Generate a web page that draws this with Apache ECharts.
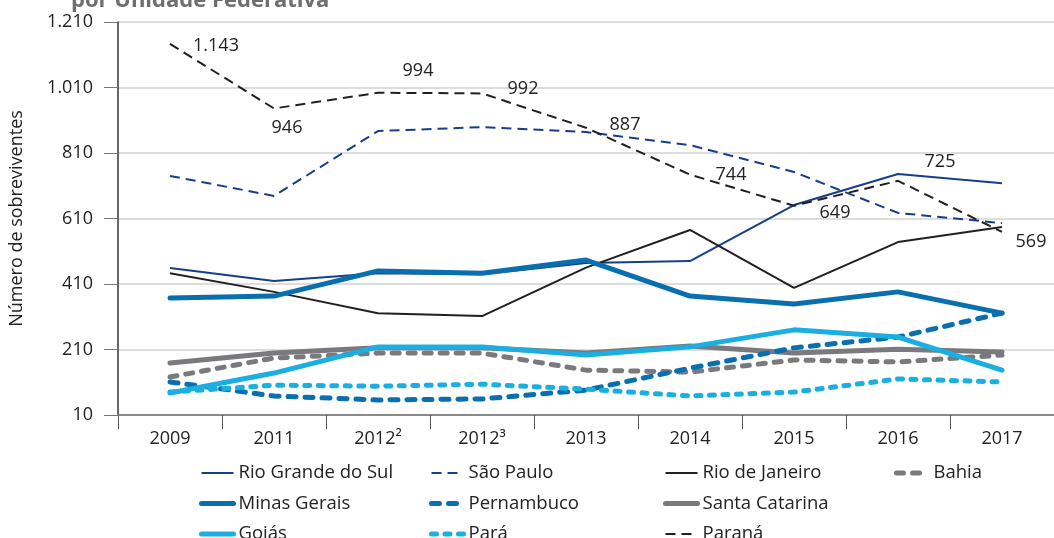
<!DOCTYPE html>
<html>
<head>
<meta charset="utf-8">
<title>Número de sobreviventes por Unidade Federativa</title>
<script src="https://cdn.jsdelivr.net/npm/echarts@6/dist/echarts.min.js"></script>
<style>
  html, body { margin: 0; padding: 0; background: #fff; }
  #chart { width: 1054px; height: 538px; }
</style>
</head>
<body>
<div id="chart"></div>
<script>
// categories (x axis)
var years = ["2009", "2011", "2012²", "2012³", "2013", "2014", "2015", "2016", "2017"];

// series values
var rioGrandeDoSul = [459, 419, 443, 440, 474, 480, 651, 746, 718];
var saoPaulo = [740, 679, 877, 889, 874, 834, 752, 627, 596];
var rioDeJaneiro = [443, 386, 321, 312, 460, 575, 398, 538, 584];
var bahia = [126, 184, 199, 199, 147, 141, 178, 172, 193];
var minasGerais = [367, 373, 450, 443, 483, 373, 349, 386, 321];
var pernambuco = [111, 68, 56, 59, 86, 153, 215, 248, 321];
var santaCatarina = [169, 199, 215, 215, 199, 221, 199, 211, 202];
var goias = [77, 138, 218, 218, 193, 218, 270, 248, 147];
var para = [80, 101, 98, 104, 89, 68, 80, 120, 111];
var parana = [1143, 946, 994, 992, 887, 744, 649, 725, 569];

// y axis ticks
var yMin = 10;
var yMax = 1210;
var yStep = 200;

var navy = "#163f87";
var blue = "#0a6faf";
var cyan = "#1aafe0";
var gray = "#7a7a7e";
var black = "#231f20";
var fontName = "'Open Sans', sans-serif";

// where each Paraná label sits relative to its point
var paranaLabelOffsets = [[46, 2], [13, 19], [40, -22], [41, -5], [39, -3], [41, 0], [41, 7], [42, -19], [29, 10]];

// thick lines (also used for legend icons)
var thick = ["Bahia", "Minas Gerais", "Pernambuco", "Santa Catarina", "Goiás", "Pará"];

function fmt(v) {
  return String(v).replace(/\B(?=(\d{3})+(?!\d))/g, ".");
}

function lineSeries(name, data, color, width, dash) {
  return {
    name: name,
    type: "line",
    data: data,
    symbol: "none",
    z: width > 3 ? 3 : 2,
    lineStyle: {
      color: color,
      width: width,
      type: dash || "solid",
      cap: width > 3 ? "round" : "butt"
    },
    itemStyle: { color: color },
    animation: false
  };
}

var paranaSeries = lineSeries("Paraná", parana, black, 2, [10, 6]);
paranaSeries.symbol = "circle";
paranaSeries.symbolSize = 1;
paranaSeries.itemStyle = { color: "rgba(0,0,0,0)" };
paranaSeries.z = 4;
paranaSeries.data = parana.map(function (v, i) {
  return {
    value: v,
    label: {
      show: true,
      position: "inside",
      offset: paranaLabelOffsets[i],
      formatter: fmt(v),
      color: "#222",
      fontSize: 18,
      fontFamily: fontName
    }
  };
});

var chart = echarts.init(document.getElementById("chart"));

function legendColumn(left, names) {
  return {
    orient: "vertical",
    left: left,
    top: 463,
    height: 100,
    padding: 0,
    itemWidth: 32,
    itemHeight: 14,
    itemGap: 10.5,
    itemStyle: { color: "rgba(0,0,0,0)", borderWidth: 0, opacity: 0 },
    textStyle: { color: "#222", fontSize: 18.5, fontFamily: fontName, lineHeight: 20 },
    data: names.map(function (n) {
      return { name: n, lineStyle: { width: thick.indexOf(n) >= 0 ? 5 : 2 } };
    })
  };
}

chart.setOption({
  backgroundColor: "#fff",
  title: {
    text: "por Unidade Federativa",
    left: 66,
    top: -15,
    textStyle: { color: "#6d6e71", fontSize: 22, fontWeight: "bold", fontFamily: fontName }
  },
  grid: { left: 117, right: -10, top: 22, bottom: 123 },
  legend: [
    legendColumn(199, ["Rio Grande do Sul", "Minas Gerais", "Goiás"]),
    legendColumn(429, ["São Paulo", "Pernambuco", "Pará"]),
    legendColumn(663, ["Rio de Janeiro", "Santa Catarina", "Paraná"]),
    legendColumn(894, ["Bahia"])
  ],
  xAxis: {
    type: "category",
    data: years,
    axisLine: { lineStyle: { color: "#8a8a8a", width: 2 } },
    axisTick: { show: true, length: 14, lineStyle: { color: "#555", width: 1 } },
    axisLabel: { color: "#222", fontSize: 18, fontFamily: fontName, margin: 15 }
  },
  yAxis: {
    type: "value",
    min: yMin,
    max: yMax,
    interval: yStep,
    name: "Número de sobreviventes",
    nameLocation: "middle",
    nameGap: 92,
    nameTextStyle: { color: "#222", fontSize: 18, fontFamily: fontName },
    axisLine: { show: true, lineStyle: { color: "#333", width: 1.5 } },
    axisTick: { show: true, length: 14, lineStyle: { color: "#777" } },
    axisLabel: { color: "#222", fontSize: 18, fontFamily: fontName, margin: 25, formatter: fmt },
    splitLine: { lineStyle: { color: "#d2d2d2", width: 1.5 } }
  },
  series: [
    lineSeries("Rio Grande do Sul", rioGrandeDoSul, navy, 2),
    lineSeries("São Paulo", saoPaulo, navy, 2, [10, 6]),
    lineSeries("Rio de Janeiro", rioDeJaneiro, black, 2),
    lineSeries("Santa Catarina", santaCatarina, gray, 5),
    lineSeries("Bahia", bahia, gray, 5, [7, 9]),
    lineSeries("Pernambuco", pernambuco, blue, 5, [8, 9]),
    lineSeries("Pará", para, cyan, 5, [5, 8.5]),
    lineSeries("Minas Gerais", minasGerais, blue, 5),
    lineSeries("Goiás", goias, cyan, 5),
    paranaSeries
  ]
});
</script>
</body>
</html>
